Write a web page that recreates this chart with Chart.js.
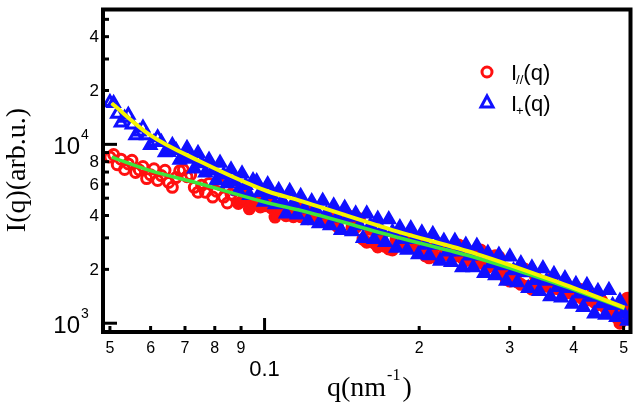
<!DOCTYPE html>
<html>
<head>
<meta charset="utf-8">
<script src="https://cdn.jsdelivr.net/npm/chart.js@4.4.1/dist/chart.umd.min.js"></script>
<style>
html, body { margin: 0; padding: 0; background: #fff; }
#wrap { width: 640px; height: 410px; }
</style>
</head>
<body>
<div id="wrap"><canvas id="grafico" width="640" height="410"></canvas></div>
<script>
// q (nm^-1) - shared by both measured curves
var q = [0.05000, 0.05083, 0.05167, 0.05253, 0.05340, 0.05429, 0.05519, 0.05610, 0.05703, 0.05798,
         0.05894, 0.05992, 0.06091, 0.06192, 0.06295, 0.06400, 0.06506, 0.06614, 0.06723, 0.06835,
         0.06948, 0.07063, 0.07180, 0.07299, 0.07420, 0.07543, 0.07669, 0.07796, 0.07925, 0.08056,
         0.08190, 0.08326, 0.08464, 0.08604, 0.08747, 0.08891, 0.09039, 0.09189, 0.09341, 0.09496,
         0.09653, 0.09813, 0.09976, 0.10141, 0.10309, 0.10480, 0.10654, 0.10831, 0.11010, 0.11193,
         0.11378, 0.11567, 0.11758, 0.11953, 0.12151, 0.12353, 0.12557, 0.12765, 0.12977, 0.13192,
         0.13411, 0.13633, 0.13859, 0.14089, 0.14322, 0.14560, 0.14801, 0.15046, 0.15296, 0.15549,
         0.1581, 0.1607, 0.1634, 0.1661, 0.1689, 0.1717, 0.1745, 0.1774, 0.1804, 0.1834,
         0.1864, 0.1895, 0.1926, 0.1958, 0.1991, 0.2024, 0.2057, 0.2091, 0.2126, 0.2161,
         0.2197, 0.2234, 0.2271, 0.2308, 0.2347, 0.2386, 0.2425, 0.2465, 0.2506, 0.2548,
         0.2590, 0.2633, 0.2677, 0.2721, 0.2766, 0.2812, 0.2859, 0.2906, 0.2954, 0.3003,
         0.3053, 0.3104, 0.3155, 0.3208, 0.3261, 0.3315, 0.3370, 0.3426, 0.3483, 0.3540,
         0.3599, 0.3659, 0.3719, 0.3781, 0.3844, 0.3907, 0.3972, 0.4038, 0.4105, 0.4173,
         0.4242, 0.4313, 0.4384, 0.4457, 0.4531, 0.4606, 0.4682, 0.4760, 0.4839, 0.4919,
         0.5001, 0.5084, 0.5168];

// I//(q), red circles
var iParalelo = [8490, 8770, 7700, 8260, 7240, 7770, 8140, 6960, 7190, 7520,
                 6440, 6770, 7300, 6280, 6690, 7160, 6120, 5750, 6520, 7120,
                 7210, 6600, 6770, 5750, 5400, 5900, 5400, 6050, 5070, 5470,
                 5970, 5070, 4700, 5260, 5540, 4670, 4820, 5470, 4360, 4700,
                 4880, 4470, 4530, 4940, 4410, 3920, 4300, 4640, 3990, 4250,
                 3940, 4580, 3940, 4090, 3840, 4410, 3840, 3800, 3700, 3890,
                 3610, 4140, 3480, 3990, 4090, 3990, 3430, 3430, 3840, 2950,
                 2840, 3350, 2810, 2670, 3060, 2690, 2600, 2570, 2950, 3220,
                 2810, 2740, 2950, 2670, 2600, 2750, 2380, 2320, 2600, 2320,
                 2770, 2410, 2410, 2540, 2380, 2740, 2320, 2240, 2320, 2510,
                 2180, 2570, 2130, 2060, 2100, 2380, 2350, 1940, 1760, 1720,
                 1760, 1700, 1650, 2010, 1610, 1550, 1810, 1660, 1650, 1610,
                 1760, 1570, 1560, 1620, 1700, 1480, 1470, 1410, 1550, 1360,
                 1350, 1430, 1310, 1270, 1340, 1220, 1230, 1200, 1080, 1000,
                 1150, 1380, 1230];

// I+(q), blue triangles
var iPerpend = [17180, 16970, 14770, 13190, 14040, 14580, 12860, 11200, 11780, 12380,
                11200, 9880, 10260, 10920, 10260, 8990, 9040, 9880, 9270, 8180,
                8390, 9510, 8280, 7300, 8930, 7820, 6940, 8180, 7120, 6280,
                7870, 6770, 6050, 7210, 6200, 5500, 6860, 5900, 5200, 6280,
                6200, 5400, 4760, 5970, 5260, 4610, 5540, 4820, 4090, 5470,
                4700, 4040, 5130, 4360, 3750, 4790, 4360, 3610, 4820, 4090,
                3520, 4530, 3890, 3310, 4410, 3920, 3260, 4090, 3520, 2990,
                4090, 3520, 2950, 3820, 3300, 2840, 3800, 3240, 2630, 3430,
                2950, 2570, 3390, 2950, 2420, 3200, 2740, 2390, 3140, 2740,
                2230, 2880, 2510, 2190, 2880, 2510, 2050, 2740, 2380, 2050,
                2700, 2380, 1900, 2470, 2160, 1850, 2410, 2100, 1720, 2350,
                1970, 1690, 2160, 1920, 1570, 2040, 1740, 1510, 2020, 1720,
                1410, 1880, 1590, 1390, 1780, 1570, 1280, 1650, 1460, 1230,
                1630, 1400, 1130, 1510, 1290, 1110, 1530, 1260, 1080, 1330,
                1130, 1030, 1130];

// fitted curves
var qAjuste = [0.0504, 0.0597, 0.0746, 0.1017, 0.1162, 0.181, 0.2582, 0.3682, 0.502];
var ajusteAmarelo = [16960, 11340, 8075, 5450, 4880, 3264, 2443, 1718, 1223];
var ajusteVerde = [8490, 7150, 6043, 4700, 4305, 3026, 2323, 1675, 1208];

// axis ticks
var xTicksMenores = [0.05, 0.06, 0.07, 0.08, 0.09, 0.2, 0.3, 0.4, 0.5];
var xRotulosMenores = ['5', '6', '7', '8', '9', '2', '3', '4', '5'];
var xTicksMaiores = [0.1];
var xRotulosMaiores = ['0.1'];
var yTicksMenores = [2000, 3000, 4000, 5000, 6000, 7000, 8000, 9000, 20000, 30000, 40000, 50000];
var yRotulosValores = [2000, 4000, 6000, 8000, 20000, 40000];
var yRotulos = ['2', '4', '6', '8', '2', '4'];
var yTicksMaiores = [1000, 10000];
var yExpoentes = ['3', '4'];

var vermelho = '#ff1010';
var azul = '#1010ff';
var amarelo = '#f4f400';
var verde = '#3ce63c';

var pontos = function(xs, ys) {
    var out = [];
    for (var i = 0; i < xs.length; i++) out.push({x: xs[i], y: ys[i]});
    return out;
};

// past a given q the markers pile up into a solid band
var preenche = function(cor, qDenso) {
    return function(c) {
        return (c.raw && c.raw.x > qDenso) ? cor : 'rgba(0,0,0,0)';
    };
};

var moldura = {
    id: 'moldura',
    afterDatasetsDraw: function(chart) {
        var ctx = chart.ctx, a = chart.chartArea;
        var xs = chart.scales.x, ys = chart.scales.y;
        ctx.save();
        ctx.strokeStyle = '#000';
        ctx.fillStyle = '#000';

        var linha = function(x1, y1, x2, y2) {
            ctx.beginPath(); ctx.moveTo(x1, y1); ctx.lineTo(x2, y2); ctx.stroke();
        };

        // ticks pointing inwards
        ctx.lineWidth = 3;
        xTicksMenores.forEach(function(v) {
            var px = xs.getPixelForValue(v);
            linha(px, a.bottom, px, a.bottom - 6);
        });
        xTicksMaiores.forEach(function(v) {
            var px = xs.getPixelForValue(v);
            linha(px, a.bottom, px, a.bottom - 14);
        });
        yTicksMenores.forEach(function(v) {
            var py = ys.getPixelForValue(v);
            linha(a.left, py, a.left + 6, py);
        });
        yTicksMaiores.forEach(function(v) {
            var py = ys.getPixelForValue(v);
            linha(a.left, py, a.left + 14, py);
        });

        // frame
        ctx.lineWidth = 4;
        ctx.strokeRect(a.left, a.top, a.right - a.left, a.bottom - a.top);

        // x tick labels
        ctx.textAlign = 'center';
        ctx.textBaseline = 'top';
        ctx.font = '16px "Liberation Sans", Arial, sans-serif';
        xTicksMenores.forEach(function(v, i) {
            ctx.fillText(xRotulosMenores[i], xs.getPixelForValue(v), a.bottom + 9);
        });
        ctx.font = '22px "Liberation Sans", Arial, sans-serif';
        xTicksMaiores.forEach(function(v, i) {
            ctx.fillText(xRotulosMaiores[i], xs.getPixelForValue(v), a.bottom + 27);
        });

        // y tick labels
        ctx.textAlign = 'right';
        ctx.textBaseline = 'middle';
        ctx.font = '17px "Liberation Sans", Arial, sans-serif';
        yRotulosValores.forEach(function(v, i) {
            ctx.fillText(yRotulos[i], a.left - 4, ys.getPixelForValue(v) + 1);
        });
        yTicksMaiores.forEach(function(v, i) {
            var py = ys.getPixelForValue(v);
            ctx.textAlign = 'right';
            ctx.font = '24px "Liberation Sans", Arial, sans-serif';
            ctx.fillText('10', a.left - 23, py + 3);
            ctx.textAlign = 'left';
            ctx.font = '14px "Liberation Sans", Arial, sans-serif';
            ctx.fillText(yExpoentes[i], a.left - 22, py - 9);
        });

        // axis titles
        ctx.font = '28px "Liberation Serif", "Times New Roman", serif';
        ctx.textBaseline = 'alphabetic';
        ctx.textAlign = 'left';
        var xt = 327, yt = 396;
        ctx.fillText('q(nm', xt, yt);
        var w = ctx.measureText('q(nm').width;
        ctx.font = '16px "Liberation Serif", "Times New Roman", serif';
        ctx.fillText('-1', xt + w + 1, yt - 16);
        var w2 = ctx.measureText('-1').width;
        ctx.font = '28px "Liberation Serif", "Times New Roman", serif';
        ctx.fillText(')', xt + w + w2 + 3, yt);

        ctx.save();
        ctx.translate(25, 170);
        ctx.rotate(-Math.PI / 2);
        ctx.textAlign = 'center';
        ctx.fillText('I(q)(arb.u.)', 0, 0);
        ctx.restore();

        // legend
        ctx.lineWidth = 3;
        ctx.strokeStyle = vermelho;
        ctx.beginPath(); ctx.arc(487, 72, 5, 0, 2 * Math.PI); ctx.stroke();
        ctx.strokeStyle = azul;
        ctx.beginPath();
        ctx.moveTo(487, 96); ctx.lineTo(493, 107); ctx.lineTo(481, 107); ctx.closePath();
        ctx.stroke();

        ctx.fillStyle = '#000';
        ctx.textAlign = 'left';
        ctx.textBaseline = 'alphabetic';
        var legenda = function(sub, y) {
            ctx.font = '22px "Liberation Sans", Arial, sans-serif';
            ctx.fillText('I', 511, y);
            var wi = ctx.measureText('I').width;
            ctx.font = '13px "Liberation Sans", Arial, sans-serif';
            ctx.fillText(sub, 511 + wi - 1, y + 4);
            var ws = ctx.measureText(sub).width;
            ctx.font = '22px "Liberation Sans", Arial, sans-serif';
            ctx.fillText('(q)', 511 + wi + ws - 1, y);
        };
        legenda('//', 80);
        legenda('+', 111);
        ctx.restore();
    }
};

var ctx = document.getElementById('grafico');

new Chart(ctx, {
    type: 'scatter',
    data: {
        datasets: [{
            label: 'I//(q)',
            data: pontos(q, iParalelo),
            pointStyle: 'circle',
            pointRadius: 5,
            borderWidth: 3,
            borderColor: vermelho,
            backgroundColor: preenche(vermelho, 0.088),
            order: 4
        }, {
            label: 'I+(q)',
            data: pontos(q, iPerpend),
            pointStyle: 'triangle',
            pointRadius: 6.5,
            borderWidth: 3,
            borderColor: azul,
            backgroundColor: preenche(azul, 0.062),
            order: 3
        }, {
            label: 'ajuste I//',
            data: pontos(qAjuste, ajusteVerde),
            showLine: true,
            pointRadius: 0,
            borderWidth: 3.5,
            borderColor: verde,
            cubicInterpolationMode: 'monotone',
            order: 2
        }, {
            label: 'ajuste I+',
            data: pontos(qAjuste, ajusteAmarelo),
            showLine: true,
            pointRadius: 0,
            borderWidth: 4,
            borderColor: amarelo,
            cubicInterpolationMode: 'monotone',
            order: 1
        }]
    },
    options: {
        responsive: false,
        animation: false,
        devicePixelRatio: 1,
        layout: { padding: { left: 103, top: 2, right: 4, bottom: 78 } },
        plugins: {
            legend: { display: false },
            tooltip: { enabled: false }
        },
        elements: { point: { hoverRadius: 5 } },
        scales: {
            x: { type: 'logarithmic', min: 0.04847, max: 0.5157, display: false },
            y: { type: 'logarithmic', min: 893, max: 56750, display: false }
        }
    },
    plugins: [moldura]
});
</script>
</body>
</html>
